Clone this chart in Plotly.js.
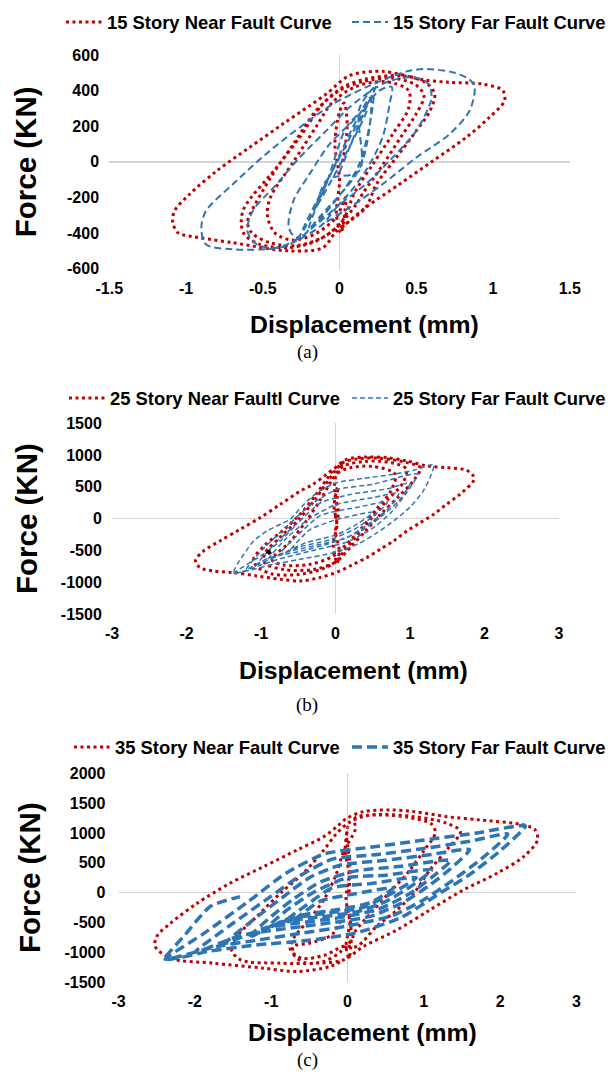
<!DOCTYPE html>
<html><head><meta charset="utf-8">
<script src="https://cdn.plot.ly/plotly-3.0.1.min.js"></script>
<style>html,body{margin:0;padding:0;background:#fff}#chart{width:611px;height:1080px}</style>
</head><body><div id="chart"></div>
<script>
// ---------- data (displacement mm, force KN) ----------
var nearA = [[0.02,0],[0.05,200],[0.03,330],[0.0,280],[-0.03,100],[0.0,-100],[-0.02,-300],[0.01,-400],[0.04,-200],
[-0.02,-310],[-0.15,-400],[-0.3,-440],[-0.42,-400],[-0.47,-300],[-0.45,-200],[-0.3,0],[-0.15,200],[-0.05,330],[0.1,420],[0.3,450],[0.45,400],[0.45,300],[0.35,160],[0.22,-10],[0.1,-170],
[0.02,-330],[-0.1,-420],[-0.28,-470],[-0.45,-455],[-0.57,-400],[-0.6,-340],[-0.58,-290],[-0.45,-90],[-0.3,100],[-0.15,290],[0.0,400],[0.15,450],[0.35,470],[0.5,430],[0.55,370],[0.5,270],[0.4,140],[0.28,-20],[0.15,-180],
[0.11,-238],[-0.02,-369],[-0.15,-444],[-0.33,-482],[-0.52,-463],[-0.62,-407],[-0.64,-340],[-0.62,-257],[-0.41,-32],[-0.26,137],[-0.11,324],[0.02,418],[0.17,465],[0.41,484],[0.56,446],[0.62,381],[0.59,287],[0.5,174],[0.37,24],[0.24,-126],
[0.17,-257],[-0.02,-390],[-0.11,-482],[-0.33,-500],[-0.695,-454],[-0.98,-416],[-1.05,-400],[-1.086,-341],[-1.075,-276],[-0.977,-182],[-0.80,-51],[-0.586,81],[-0.37,212],[-0.195,315],[-0.087,380],[0.065,484],[0.28,508],[0.55,460],[0.72,446],[0.93,437],[1.064,400],[1.075,343],[0.977,250],[0.825,137],[0.61,6],[0.39,-126],[0.17,-257],[0.0,-380]];

var farA = [[0.0,-60],[0.22,380],[0.12,-30],[-0.2,-380],[0.2,360],[0.14,-20],[-0.12,-300],[-0.26,-430],[0.24,430],[0.13,300],[0.13,-50],[-0.08,-100],[-0.15,-250],[0.18,300],[0.05,200],[-0.1,-150],
[-0.28,-426],[-0.33,-369],[-0.3,-219],[-0.195,-69],[-0.065,99],[0.11,249],[0.26,400],[0.34,420],[0.326,324],[0.28,137],[0.17,-51],[0.02,-219],[-0.15,-351],
[-0.26,-426],[-0.41,-482],[-0.54,-463],[-0.6,-388],[-0.565,-276],[-0.41,-126],[-0.26,24],[-0.087,174],[0.065,306],[0.24,418],[0.35,460],[0.49,474],[0.58,437],[0.6,360],[0.58,306],[0.5,174],[0.326,6],[0.17,-126],[-0.02,-257],
[-0.11,-351],[-0.28,-444],[-0.39,-482],[-0.695,-491],[-0.87,-463],[-0.90,-369],[-0.87,-276],[-0.695,-126],[-0.48,43],[-0.26,193],[-0.043,324],[0.17,418],[0.326,474],[0.45,510],[0.565,521],[0.75,500],[0.85,460],[0.88,418],[0.847,287],[0.717,156],[0.5,24],[0.28,-126],[0.065,-257],[-0.11,-351]];

var nearB = [[0.0,0],[0.03,500],[-0.02,200],[0.02,-100],[-0.03,-400],[0.02,-700],[0.05,-500],[0,-200],[0.04,100],[-0.01,400],[0.02,700],
[0.2,800],[0.5,820],[0.8,700],[0.75,450],[0.55,150],[0.35,-150],[0.15,-400],[-0.05,-600],[-0.35,-720],[-0.7,-730],[-0.85,-650],[-0.6,-350],[-0.4,-50],[-0.2,300],[-0.05,600],
[0.1,820],[0.4,900],[0.75,880],[0.95,780],[0.9,550],[0.7,300],[0.5,30],[0.3,-250],[0.12,-500],[0,-680],[-0.3,-800],[-0.7,-800],[-0.95,-700],[-0.95,-550],[-0.75,-300],[-0.5,-20],[-0.3,260],[-0.12,560],[0.0,760],
[0.1,880],[0.3,940],[0.6,950],[0.96,880],[1.14,802],[1.05,600],[0.85,350],[0.6,60],[0.4,-200],[0.2,-450],[0.05,-640],[-0.15,-780],[-0.5,-880],[-0.85,-870],[-1.05,-760],[-1.1,-640],[-0.95,-420],[-0.7,-180],[-0.45,100],[-0.25,400],[-0.1,650],[0,802],
[0.15,933],[0.42,969],[0.69,959],[0.96,907],[1.23,828],[1.49,802],[1.76,760],[1.85,670],[1.85,592],[1.67,383],[1.49,225],[1.32,68],[1.14,-63],[0.96,-194],[0.78,-351],[0.60,-482],[0.42,-613],[0.24,-718],[0.06,-823],[-0.21,-927],[-0.47,-980],[-0.74,-954],[-1.06,-901],[-1.37,-849],[-1.64,-823],[-1.82,-770],[-1.88,-660],[-1.77,-508],[-1.55,-351],[-1.28,-168],[-1.01,16],[-0.74,225],[-0.47,435],[-0.30,540],[-0.12,697],[0.0,802],[0.1,850]];

var farB = [[-0.6,-480],[-0.35,-180],[0,-20],[0.5,100],[0.3,-80],[0.0,-260],[-0.4,-380],
[-0.75,-560],[-0.5,-250],[-0.2,50],[0.3,180],[0.7,260],[0.5,30],[0.25,-170],[-0.1,-340],[-0.5,-450],
[-0.9,-640],[-0.65,-300],[-0.35,0],[0,220],[0.5,330],[0.85,400],[0.7,150],[0.45,-80],[0.15,-300],[-0.3,-430],[-0.7,-540],
[-1.05,-720],[-0.8,-380],[-0.5,-60],[-0.2,250],[0.2,380],[0.7,470],[1.0,560],[0.85,280],[0.6,20],[0.3,-220],[-0.1,-400],[-0.5,-520],[-0.9,-620],
[-1.2,-800],[-0.95,-450],[-0.65,-120],[-0.35,200],[0,450],[0.5,540],[1.1,700],[0.95,400],[0.75,100],[0.5,-150],[0.15,-370],[-0.3,-500],[-0.8,-650],
[-1.37,-865],[-1.32,-719],[-1.23,-561],[-1.10,-351],[-0.92,-194],[-0.74,-89],[-0.61,-10],[-0.38,278],[-0.21,435],[0.02,566],[0.38,634],[0.78,697],[1.05,760],[1.32,844],[1.27,650],[1.17,420],[1.0,180],[0.8,-20],[0.55,-230],[0.3,-400],[0,-530],[-0.47,-639],[-0.83,-718],[-1.10,-797],[-1.37,-865],[-0.97,-561],[-0.74,-351],[-0.52,-89]];

var markB = [[-0.93,-540],[-0.88,-500],[-0.9,-560],[-0.86,-530]];

var nearC = [[0.02,0],[0.03,500],[-0.01,900],[0.0,1100],[-0.03,700],[0.02,300],[-0.02,-100],[0.03,-500],[-0.02,-900],[0.02,-1100],[0.05,-700],[0,-300],
[-0.2,-700],[-0.5,-850],[-0.71,-904],[-0.7,-1050],[-0.55,-1180],[-0.3,-1150],[-0.1,-1000],[0.05,-800],
[0.1,-650],[0.3,-350],[0.55,0],[0.8,350],[1.0,700],[1.15,1000],[1.1,1150],[0.8,1260],[0.4,1300],[0.1,1250],[0.1,1050],[-0.05,700],[-0.15,300],[-0.3,-100],[-0.5,-450],[-0.7,-750],[-0.75,-950],[-0.6,-1100],[-0.3,-1050],[-0.05,-900],
[0.12,-904],[0.38,-569],[0.65,-290],[0.87,-11],[1.08,380],[1.30,715],[1.48,1022],[1.30,1161],[0.87,1273],[0.3,1301],[0.04,1189],[-0.14,994],[-0.31,715],[-0.58,324],[-0.88,-11],[-1.19,-402],[-1.45,-737],[-1.52,-960],[-1.40,-1128],[-0.88,-1184],[-0.4,-1184],[-0.05,-1128],
[0.21,-904],[0.65,-625],[1.08,-290],[1.52,45],[1.96,324],[2.31,603],[2.49,882],[2.46,1050],[2.31,1133],[1.74,1217],[1.30,1273],[0.87,1357],[0.56,1385],[0.21,1357],[-0.01,1245],[-0.14,1105],[-0.31,938],[-0.66,715],[-1.10,435],[-1.54,156],[-1.97,-179],[-2.32,-514],[-2.50,-737],[-2.52,-904],[-2.32,-1100],[-1.76,-1184],[-1.10,-1267],[-0.66,-1323],[-0.23,-1240],[-0.05,-1128]];

var farC = [[-0.7,-460],[-0.35,-140],[0.1,-20],[0.6,80],[0.3,-170],[-0.1,-280],[-0.6,-380],
[-0.9,-560],[-0.55,-220],[-0.2,80],[0.3,150],[0.9,250],[0.6,0],[0.2,-250],[-0.3,-350],[-0.8,-450],
[-1.1,-640],[-0.8,-300],[-0.45,0],[0,250],[0.5,290],[1.1,380],[0.85,120],[0.5,-150],[0.1,-330],[-0.5,-430],[-0.9,-500],
[-1.3,-760],[-1.0,-400],[-0.7,-100],[-0.35,180],[0.1,360],[0.7,440],[1.35,540],[1.1,250],[0.8,-30],[0.4,-280],[-0.1,-420],[-0.7,-520],[-1.1,-600],
[-1.6,-850],[-1.2,-420],[-0.85,-80],[-0.5,250],[-0.1,460],[0.5,540],[1.1,640],[1.6,720],[1.35,400],[1.05,100],[0.75,-150],[0.3,-400],[-0.3,-520],[-0.9,-620],[-1.4,-720],
[-2.0,-1000],[-1.55,-560],[-1.0,-60],[-0.6,300],[-0.2,560],[0.4,640],[1.0,740],[1.6,860],[2.1,980],[1.75,560],[1.35,180],[1.0,-120],[0.6,-380],[0.0,-560],[-0.6,-680],[-1.2,-800],[-1.7,-900],
[-2.39,-1117],[-1.9,-700],[-1.3,-150],[-0.8,330],[-0.3,650],[0.3,760],[1.0,880],[1.7,1000],[2.33,1117],[2.0,700],[1.6,300],[1.2,-20],[0.7,-420],[0.1,-680],[-0.5,-800],[-1.2,-880],[-1.8,-980],[-2.39,-1117],[-2.13,-709],[-1.80,-234],[-1.41,-67]];

var xTicksA = [-1.5,-1,-0.5,0,0.5,1,1.5];
var yTicksA = [-600,-400,-200,0,200,400,600];
var xTicksBC = [-3,-2,-1,0,1,2,3];
var yTicksB = [-1500,-1000,-500,0,500,1000,1500];
var yTicksC = [-1500,-1000,-500,0,500,1000,1500,2000];

var seriesNames = ['15 Story Near Fault Curve','15 Story Far Fault Curve',
  '25 Story Near Faultl Curve','25 Story Far Fault Curve',
  '35 Story Near Fault Curve','35 Story Far Fault Curve'];
var captions = ['(a)','(b)','(c)'];
var xTitle = 'Displacement (mm)';
var yTitle = 'Force (KN)';

// ---------- styling ----------
var RED = '#c00000', BLUE = '#2e75b6';
function xs(a){return a.map(function(p){return p[0];});}
function ys(a){return a.map(function(p){return p[1];});}
function lbl(v){return String(v);}

function tr(data, name, xa, ya, color, width, dash, leg, sm){
  return {type:'scatter', mode:'lines', x:xs(data), y:ys(data), name:name,
    xaxis:xa, yaxis:ya, legend:leg,
    line:{color:color, width:width, dash:dash, shape:'spline', smoothing:sm},
    hoverinfo:'skip'};
}
var traces = [
  tr(nearA, seriesNames[0], 'x', 'y', RED, 3, '3px,3.5px', 'legend', 0.9),
  tr(farA, seriesNames[1], 'x', 'y', BLUE, 2, '7px,4px', 'legend2', 0.9),
  tr(nearB, seriesNames[2], 'x2', 'y2', RED, 3, '3px,3.5px', 'legend3', 0.9),
  tr(farB, seriesNames[3], 'x2', 'y2', BLUE, 1.5, '5px,3px', 'legend4', 0.6),
  tr(nearC, seriesNames[4], 'x3', 'y3', RED, 3, '3px,3.5px', 'legend5', 0.9),
  tr(farC, seriesNames[5], 'x3', 'y3', BLUE, 3.5, '10px,5px', 'legend6', 0.6)
];
traces.push({type:'scatter', mode:'lines', x:xs(markB), y:ys(markB), xaxis:'x2', yaxis:'y2',
  showlegend:false, line:{color:'#000', width:2}, hoverinfo:'skip'});

var FONT = 'Arial, "Liberation Sans", sans-serif';
var tickFont = {family:FONT, size:16, color:'#000', weight:'bold'};
function xax(dom, rng, ticks, anchor){
  return {domain:dom, range:rng, anchor:anchor, tickvals:ticks, ticktext:ticks.map(lbl),
    showgrid:false, zeroline:true, zerolinecolor:'#d4d4d4', zerolinewidth:1.5, showline:false,
    ticks:'outside', ticklen:5, tickcolor:'rgba(0,0,0,0)', tickfont:tickFont, fixedrange:true};
}
function yax(dom, rng, ticks, anchor, standoff, tl){
  return {domain:dom, range:rng, anchor:anchor, tickvals:ticks, ticktext:ticks.map(lbl),
    showgrid:false, zeroline:true, zerolinecolor:'#d4d4d4', zerolinewidth:1.5, showline:false,
    ticks:'outside', ticklen:tl, tickcolor:'rgba(0,0,0,0)', tickfont:tickFont, fixedrange:true,
    title:{text:yTitle, font:{family:FONT, size:29.5, color:'#000', weight:'bold'}, standoff:standoff}};
}
function leg(x, y, anchor){
  return {orientation:'h', x:x, y:y, xanchor:anchor, yanchor:'middle', bgcolor:'rgba(0,0,0,0)',
    font:{family:FONT, size:18.4, color:'#000', weight:'bold'}, itemwidth:36};
}
function cap(t, y){
  return {text:t, xref:'paper', yref:'paper', x:0.503, y:y, showarrow:false,
    xanchor:'center', yanchor:'middle', font:{family:'"Liberation Serif", "Times New Roman", serif', size:19, color:'#000'}};
}
function xt(x, y){
  return {text:xTitle, xref:'paper', yref:'paper', x:x, y:y, showarrow:false,
    xanchor:'center', yanchor:'middle', font:{family:FONT, size:24.8, color:'#000', weight:'bold'}};
}

var layout = {
  width:611, height:1080, margin:{l:0, r:0, t:0, b:0, autoexpand:false},
  paper_bgcolor:'#fff', plot_bgcolor:'#fff', showlegend:true,
  xaxis: xax([0.1788,0.9325], [-1.5,1.5], xTicksA, 'y'),
  yaxis: yax([0.7512,0.9491], [-600,600], yTicksA, 'x', 21, 6),
  xaxis2: xax([0.1833,0.9149], [-3,3], xTicksBC, 'y2'),
  yaxis2: yax([0.4315,0.6081], [-1500,1500], yTicksB, 'x2', 14, 6),
  xaxis3: xax([0.1941,0.9434], [-3,3], xTicksBC, 'y3'),
  yaxis3: yax([0.0907,0.2840], [-1500,2000], yTicksC, 'x3', 15, 9),
  legend: leg(0.0998, 1-22/1080, 'left'),
  legend2: leg(1.0, 1-22/1080, 'right'),
  legend3: leg(0.1047, 1-398/1080, 'left'),
  legend4: leg(1.0, 1-398/1080, 'right'),
  legend5: leg(0.1129, 1-747/1080, 'left'),
  legend6: leg(1.0, 1-747/1080, 'right'),
  annotations:[
    xt(364/611, 1-324/1080), xt(353/611, 1-670/1080), xt(362/611, 1-1032/1080),
    cap(captions[0], 1-352/1080), cap(captions[1], 1-705/1080), cap(captions[2], 1-1060/1080)]
};
Plotly.newPlot('chart', traces, layout, {staticPlot:true, displayModeBar:false});
</script></body></html>
